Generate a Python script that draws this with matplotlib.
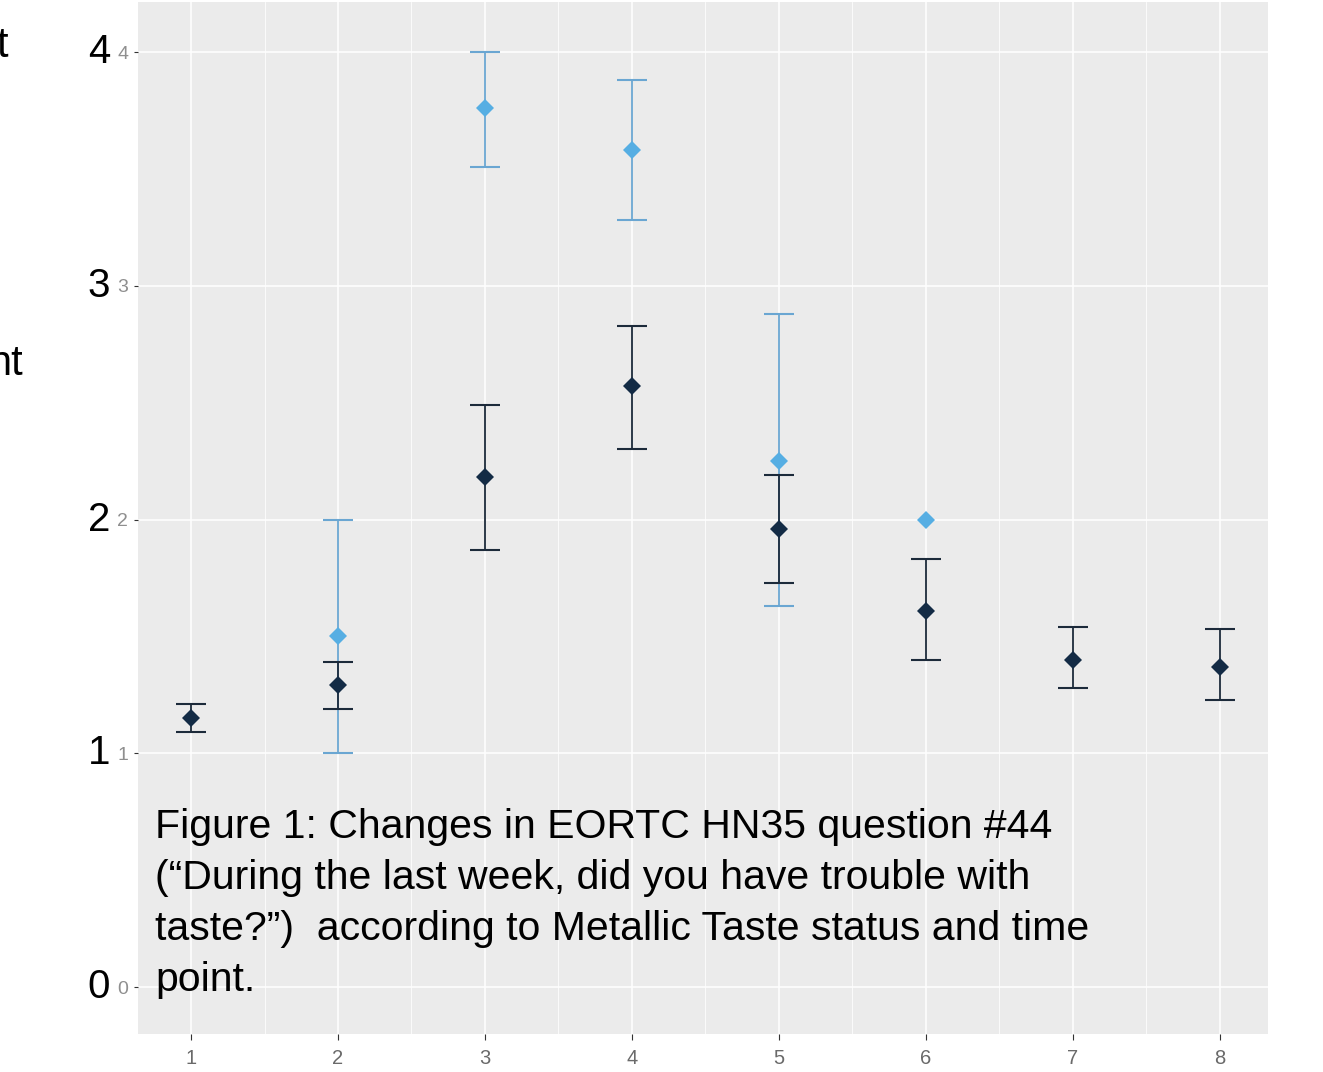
import matplotlib
matplotlib.use("Agg")
import matplotlib.pyplot as plt
import matplotlib.transforms as mtransforms
import numpy as np

# time points and the two groups (mean with lower / upper error bounds)
time_points = [1, 2, 3, 4, 5, 6, 7, 8]
dark_mean = [1.15, 1.29, 2.18, 2.57, 1.96, 1.61, 1.40, 1.37]
dark_lo = [1.09, 1.19, 1.87, 2.30, 1.73, 1.40, 1.28, 1.23]
dark_hi = [1.21, 1.39, 2.49, 2.83, 2.19, 1.83, 1.54, 1.53]

light_x = [2, 3, 4, 5, 6]
light_mean = [1.50, 3.76, 3.58, 2.25, 2.00]
light_lo = [1.00, 3.51, 3.28, 1.63, np.nan]
light_hi = [2.00, 4.00, 3.88, 2.88, np.nan]

y_ticks = [0, 1, 2, 3, 4]
caption_lines = [
    "Figure 1: Changes in EORTC HN35 question #44",
    "(\u201cDuring the last week, did you have trouble with",
    "taste?\u201d)  according to Metallic Taste status and time",
    "point.",
]

W, H = 1323, 1072
plt.rcParams['font.family'] = ['Liberation Sans', 'DejaVu Sans']

fig = plt.figure(figsize=(W / 100, H / 100), dpi=100)
ax = fig.add_axes([138 / W, (H - 1034) / H, (1268 - 138) / W, (1034 - 2) / H])
ax.set_facecolor('#ebebeb')
for s in ax.spines.values():
    s.set_visible(False)

ax.set_xlim(0.639, 8.33)
ax.set_ylim(-0.201, 4.214)
ax.set_xticks(time_points)
ax.set_xticks(np.arange(1.5, 8.5, 1), minor=True)
ax.set_yticks(y_ticks)
ax.set_yticks(np.arange(-0.5, 4.5, 0.5)[1::2], minor=True)
ax.grid(which='major', color='white', linewidth=1.1)
ax.grid(which='minor', color='white', linewidth=0.55)
ax.set_axisbelow(True)
ax.tick_params(axis='x', which='major', length=4, width=0.8, color='#333333',
               labelsize=14.5, labelcolor='#6a6a6a', pad=7)
ax.tick_params(axis='y', which='major', length=3, width=0.8, color='#333333',
               labelsize=14, labelcolor='#8f8f8f', pad=4)
ax.tick_params(which='minor', length=0)

# light group
lx = np.array(light_x, dtype=float)
lm = np.array(light_mean)
llo = np.array(light_lo)
lhi = np.array(light_hi)
ok = ~np.isnan(llo)
ax.errorbar(lx[ok], lm[ok], yerr=[lm[ok] - llo[ok], lhi[ok] - lm[ok]], fmt='none',
            ecolor='#6aa6d2', elinewidth=1.3, capsize=10.5, capthick=1.5, zorder=3)
ax.plot(lx, lm, 'D', color='#56aee3', markersize=9.5, markeredgewidth=0, zorder=4)

# dark group
dm = np.array(dark_mean)
ax.errorbar(time_points, dm, yerr=[dm - np.array(dark_lo), np.array(dark_hi) - dm],
            fmt='none', ecolor='#1c2a3a', elinewidth=1.3, capsize=11, capthick=1.5, zorder=5)
ax.plot(time_points, dm, 'D', color='#132b45', markersize=9.5, markeredgewidth=0, zorder=6)

# large overlaid tick numbers
tr = mtransforms.blended_transform_factory(fig.transFigure, ax.transData)
for v in y_ticks:
    ax.text(110 / W, v, str(v), transform=tr, ha='right', va='center',
            fontsize=29, color='black', clip_on=False)

# caption inside the panel
for i, line in enumerate(caption_lines):
    fig.text(155 / W, 1 - (838 + 51 * i) / H, line, ha='left', va='baseline',
             fontsize=29.5, color='black')

# cut-off text at the left edge
fig.text(8 / W, 1 - 57 / H, "t", ha='right', va='baseline', fontsize=30)
fig.text(23 / W, 1 - 375 / H, "nt", ha='right', va='baseline', fontsize=30)

fig.savefig('out.png', dpi=100)
